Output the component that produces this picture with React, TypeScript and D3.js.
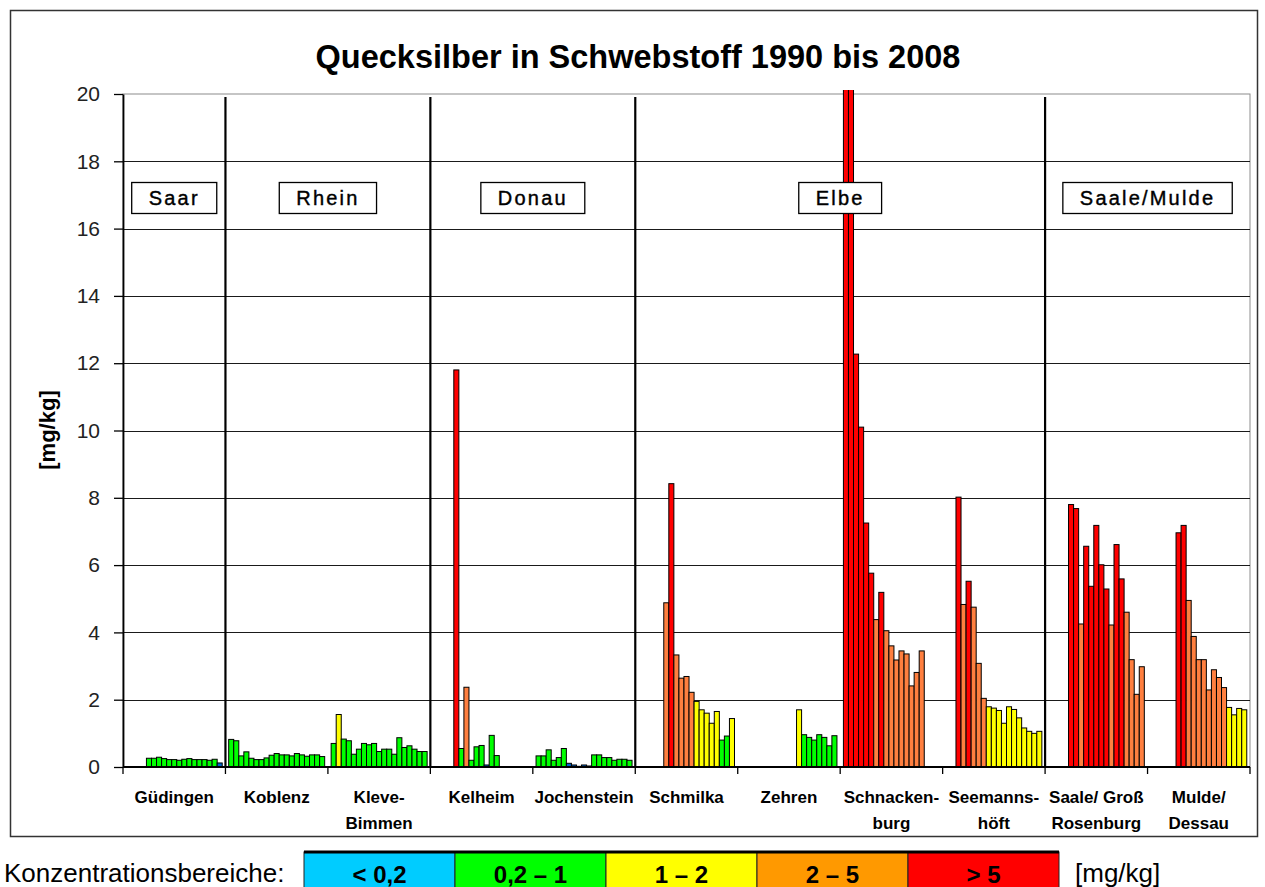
import { useEffect, useRef } from 'react';
import * as d3 from 'd3';

// years on the x axis (one bar per year inside each station)
const years = [1990, 1991, 1992, 1993, 1994, 1995, 1996, 1997, 1998, 1999, 2000, 2001, 2002, 2003, 2004, 2005, 2006, 2007, 2008];

// station labels (line-broken as in the original)
const stationLabels = [
  ['Güdingen'], ['Koblenz'], ['Kleve-', 'Bimmen'], ['Kelheim'], ['Jochenstein'],
  ['Schmilka'], ['Zehren'], ['Schnacken-', 'burg'], ['Seemanns-', 'höft'],
  ['Saale/ Groß', 'Rosenburg'], ['Mulde/', 'Dessau'],
];

// mercury in suspended matter [mg/kg], 1990..2008, null = no value
const guedingen = [null, null, null, null, 0.26, 0.26, 0.29, 0.25, 0.22, 0.22, 0.2, 0.23, 0.25, 0.22, 0.22, 0.22, 0.2, 0.23, 0.12];
const koblenz = [0.82, 0.78, 0.33, 0.45, 0.26, 0.22, 0.22, 0.27, 0.35, 0.4, 0.36, 0.36, 0.33, 0.4, 0.36, 0.32, 0.36, 0.36, 0.31];
const kleveBimmen = [0.7, 1.56, 0.83, 0.78, 0.38, 0.53, 0.7, 0.66, 0.7, 0.46, 0.53, 0.53, 0.38, 0.87, 0.58, 0.63, 0.53, 0.46, 0.46];
const kelheim = [null, null, null, null, 11.8, 0.55, 2.37, 0.2, 0.6, 0.64, 0.06, 0.94, 0.34, null, null, null, null, null, null];
const jochenstein = [0.33, 0.33, 0.51, 0.2, 0.28, 0.55, 0.11, 0.06, 0.02, 0.06, 0.03, 0.36, 0.36, 0.28, 0.28, 0.2, 0.23, 0.23, 0.2];
const schmilka = [null, null, null, null, null, 4.88, 8.42, 3.33, 2.64, 2.69, 2.22, 1.95, 1.7, 1.6, 1.3, 1.65, 0.8, 0.92, 1.44];
const zehren = [null, null, null, null, null, null, null, null, null, null, null, 1.7, 0.96, 0.88, 0.8, 0.96, 0.88, 0.63, 0.93];
const schnackenburg = [25, 22, 12.27, 10.1, 7.25, 5.76, 4.38, 5.19, 4.05, 3.6, 3.18, 3.45, 3.36, 2.41, 2.81, 3.45, null, null, null];
const seemannshoeft = [null, null, 8.02, 4.83, 5.52, 4.75, 3.08, 2.04, 1.79, 1.75, 1.68, 1.3, 1.79, 1.71, 1.46, 1.16, 1.06, 1.0, 1.06];
const saaleRosenburg = [null, null, null, null, 7.8, 7.68, 4.25, 6.56, 5.37, 7.18, 6.01, 5.29, 4.22, 6.61, 5.59, 4.6, 3.19, 2.16, 2.98];
const muldeDessau = [null, null, null, null, null, 6.96, 7.18, 4.95, 3.88, 3.19, 3.19, 2.29, 2.89, 2.66, 2.36, 1.77, 1.55, 1.74, 1.7];

const stationValues = [guedingen, koblenz, kleveBimmen, kelheim, jochenstein, schmilka, zehren, schnackenburg, seemannshoeft, saaleRosenburg, muldeDessau];

// rivers and how many stations each one spans
const rivers = ['Saar', 'Rhein', 'Donau', 'Elbe', 'Saale/Mulde'];
const riverStationCounts = [1, 2, 2, 4, 2];

// concentration classes
const classThresholds = [0.2, 1, 2, 5];
const classLabels = ['< 0,2', '0,2 – 1', '1 – 2', '2 – 5', '> 5'];
const barColors = ['#0066cc', '#00ff00', '#ffff00', '#ff7f3f', '#ff0000'];
const legendColors = ['#00ccff', '#00ff00', '#ffff00', '#ff9900', '#ff0000'];

const yTicks = [0, 2, 4, 6, 8, 10, 12, 14, 16, 18, 20];

const FONT = "'Liberation Sans', Arial, sans-serif";

const App = () => {
  const svgRef = useRef<SVGSVGElement>(null);

  useEffect(() => {
    if (!svgRef.current) return;
    const width = 1265;
    const height = 887;
    const left = 123, right = 1250, top = 94, bottom = 767;

    const svg = d3.select(svgRef.current);
    svg.selectAll('*').remove();
    svg.attr('width', width).attr('height', height).style('font-family', FONT);

    svg.append('rect').attr('width', width).attr('height', height).attr('fill', '#fff');

    // outer frame
    svg.append('rect')
      .attr('x', 10.5).attr('y', 10.5).attr('width', 1247).attr('height', 826)
      .attr('fill', 'none').attr('stroke', '#333').attr('stroke-width', 1.5);

    // title
    svg.append('text')
      .attr('x', 638).attr('y', 68)
      .attr('text-anchor', 'middle')
      .attr('font-size', 32.5).attr('font-weight', 'bold')
      .text('Quecksilber in Schwebstoff 1990 bis 2008');

    const stationIdx = stationLabels.map((_, i) => i);
    const x = d3.scaleBand<number>().domain(stationIdx).range([left, right]).paddingInner(0).paddingOuter(0);
    const xYear = d3.scaleBand<number>().domain(years).range([0, x.bandwidth()]).paddingInner(0).paddingOuter(0.64);
    const y = d3.scaleLinear().domain([0, 20]).range([bottom, top]);
    const colorClass = d3.scaleThreshold<number, string>().domain(classThresholds).range(barColors);

    // plot area border (gray)
    svg.append('rect')
      .attr('x', left).attr('y', top).attr('width', right - left).attr('height', bottom - top)
      .attr('fill', 'none').attr('stroke', '#8c8c8c').attr('stroke-width', 1);

    // horizontal gridlines
    svg.append('g')
      .selectAll('line')
      .data(yTicks.filter(t => t > 0 && t < 20))
      .enter()
      .append('line')
      .attr('x1', left).attr('x2', right)
      .attr('y1', d => Math.round(y(d)) + 0.5).attr('y2', d => Math.round(y(d)) + 0.5)
      .attr('stroke', '#1a1a1a').attr('stroke-width', 1);

    // bars
    svg.append('defs').append('clipPath').attr('id', 'plotclip')
      .append('rect').attr('x', left).attr('y', top - 4).attr('width', right - left).attr('height', bottom - top + 4);

    const barData: { s: number; year: number; v: number }[] = [];
    stationValues.forEach((vals, s) => {
      vals.forEach((v, j) => {
        if (v !== null) barData.push({ s, year: years[j], v });
      });
    });

    svg.append('g')
      .attr('clip-path', 'url(#plotclip)')
      .selectAll('rect')
      .data(barData)
      .enter()
      .append('rect')
      .attr('x', d => (x(d.s) as number) + (xYear(d.year) as number))
      .attr('width', xYear.bandwidth())
      .attr('y', d => y(d.v))
      .attr('height', d => bottom - y(d.v))
      .attr('fill', d => colorClass(d.v))
      .attr('stroke', '#000')
      .attr('stroke-width', 1);

    // river separators
    let acc = 0;
    const riverSpans: { name: string; x0: number; x1: number }[] = [];
    rivers.forEach((name, i) => {
      const x0 = x(acc) as number;
      acc += riverStationCounts[i];
      const x1 = acc < stationLabels.length ? (x(acc) as number) : right;
      riverSpans.push({ name, x0, x1 });
    });

    svg.append('g')
      .selectAll('line')
      .data(riverSpans.slice(1))
      .enter()
      .append('line')
      .attr('x1', d => d.x0).attr('x2', d => d.x0)
      .attr('y1', top + 3).attr('y2', bottom)
      .attr('stroke', '#000').attr('stroke-width', 2.2);

    // river label boxes
    const riverG = svg.append('g');
    riverSpans.forEach(r => {
      const cx = (r.x0 + r.x1) / 2;
      const g = riverG.append('g');
      const txt = g.append('text')
        .attr('x', cx).attr('y', 205)
        .attr('text-anchor', 'middle')
        .attr('font-size', 20)
        .attr('letter-spacing', 2.2)
        .attr('fill', '#000')
        .attr('stroke', '#000').attr('stroke-width', 0.4)
        .text(r.name);
      const w = (txt.node() as SVGTextElement).getComputedTextLength();
      g.insert('rect', 'text')
        .attr('x', cx - w / 2 - 17).attr('y', 182.5)
        .attr('width', w + 34).attr('height', 31)
        .attr('fill', '#fff').attr('stroke', '#000').attr('stroke-width', 1.3);
    });

    // y axis
    const yAxis = svg.append('g')
      .attr('transform', `translate(${left},0)`)
      .call(d3.axisLeft(y).tickValues(yTicks).tickSize(9).tickSizeOuter(0).tickPadding(14));
    yAxis.select('.domain').attr('stroke', '#000').attr('stroke-width', 1.8);
    yAxis.selectAll('.tick line').attr('stroke', '#000').attr('stroke-width', 1.3);
    yAxis.selectAll('.tick text')
      .attr('font-size', 21).attr('font-family', FONT).attr('fill', '#222');

    // y axis title
    svg.append('text')
      .attr('transform', `translate(55,430) rotate(-90)`)
      .attr('text-anchor', 'middle')
      .attr('font-size', 22).attr('font-weight', 'bold')
      .text('[mg/kg]');

    // x axis line and category ticks
    svg.append('line')
      .attr('x1', left).attr('x2', right).attr('y1', bottom).attr('y2', bottom)
      .attr('stroke', '#000').attr('stroke-width', 1.8);
    const boundaries = stationIdx.map(i => x(i) as number).concat([right]);
    svg.append('g')
      .selectAll('line')
      .data(boundaries)
      .enter()
      .append('line')
      .attr('x1', d => d).attr('x2', d => d)
      .attr('y1', bottom).attr('y2', bottom + 7)
      .attr('stroke', '#000').attr('stroke-width', 1.3);

    // category labels
    const labelG = svg.append('g')
      .attr('font-size', 17).attr('font-weight', 'bold').attr('text-anchor', 'middle');
    stationLabels.forEach((lines, i) => {
      const cx = (x(i) as number) + x.bandwidth() / 2;
      lines.forEach((line, k) => {
        labelG.append('text').attr('x', cx).attr('y', 803 + k * 26).text(line);
      });
    });

    // legend
    svg.append('text')
      .attr('x', 4).attr('y', 882)
      .attr('font-size', 26)
      .text('Konzentrationsbereiche:');

    const lx = d3.scaleBand<string>().domain(classLabels).range([304, 1059]);
    const legendG = svg.append('g');
    classLabels.forEach((lab, i) => {
      legendG.append('rect')
        .attr('x', lx(lab) as number).attr('y', 852)
        .attr('width', lx.bandwidth()).attr('height', 40)
        .attr('fill', legendColors[i]).attr('stroke', '#222').attr('stroke-width', 1);
      legendG.append('text')
        .attr('x', (lx(lab) as number) + lx.bandwidth() / 2).attr('y', 883)
        .attr('text-anchor', 'middle')
        .attr('font-size', 24).attr('font-weight', 'bold')
        .text(lab);
    });
    legendG.append('line')
      .attr('x1', 304).attr('x2', 1059).attr('y1', 852).attr('y2', 852)
      .attr('stroke', '#000').attr('stroke-width', 3);

    svg.append('text')
      .attr('x', 1075).attr('y', 882)
      .attr('font-size', 26)
      .text('[mg/kg]');
  }, []);

  return (
    <svg ref={svgRef} style={{ position: 'absolute', left: 0, top: 0, display: 'block' }} />
  );
};

export default App;
